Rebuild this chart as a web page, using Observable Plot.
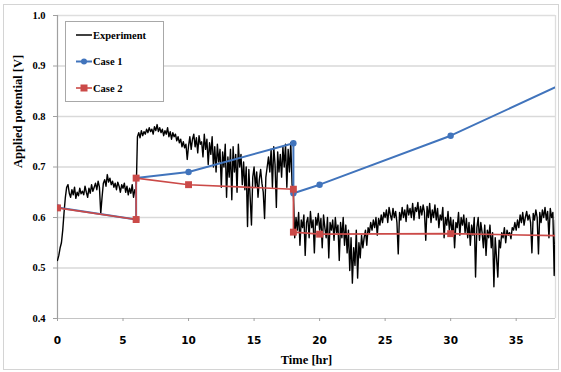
<!DOCTYPE html>
<html><head><meta charset="utf-8">
<script src="https://cdn.jsdelivr.net/npm/d3@7"></script>
<script src="https://cdn.jsdelivr.net/npm/@observablehq/plot@0.6"></script>
<style>
body{margin:0;background:#fff;}
#wrap{position:relative;width:561px;height:372px;overflow:hidden;background:#fff;}
#frame{position:absolute;left:3px;top:4px;width:556px;height:366px;border:1px solid #d4d4d4;box-sizing:border-box;}
#wrap svg{position:absolute;left:0;top:0;}
</style></head>
<body><div id="wrap"><div id="frame"></div></div>
<script>
// ---- data ----
const xTicks = [0, 5, 10, 15, 20, 25, 30, 35];
const yTicks = [0.4, 0.5, 0.6, 0.7, 0.8, 0.9, 1.0];
const yGrid = [0.5, 0.6, 0.7, 0.8, 0.9];

const case1Time  = [0, 6, 6, 10, 18, 18, 20, 30, 40];
const case1Value = [0.620, 0.596, 0.678, 0.690, 0.747, 0.648, 0.665, 0.762, 0.882];
const case2Time  = [0, 6, 6, 10, 18, 18, 20, 30, 40];
const case2Value = [0.619, 0.596, 0.678, 0.665, 0.656, 0.571, 0.567, 0.568, 0.563];

// experiment: sampled every 0.1 hr starting at 0 hr
const expStart = 0, expStep = 0.1;
const expValue = [
 0.515,0.525,0.540,0.550,0.575,0.610,0.640,0.660,0.665,0.648,
 0.640,0.655,0.645,0.660,0.638,0.650,0.643,0.658,0.647,0.652,
 0.645,0.662,0.650,0.640,0.658,0.648,0.665,0.652,0.660,0.668,
 0.655,0.672,0.660,0.608,0.640,0.668,0.675,0.662,0.685,0.670,
 0.678,0.665,0.672,0.660,0.668,0.655,0.670,0.662,0.650,0.665,
 0.658,0.668,0.650,0.662,0.645,0.658,0.648,0.665,0.640,0.655,
 0.648,0.760,0.768,0.758,0.772,0.762,0.770,0.765,0.775,0.768,
 0.778,0.770,0.775,0.765,0.780,0.772,0.784,0.770,0.778,0.768,
 0.775,0.762,0.772,0.765,0.778,0.760,0.770,0.755,0.768,0.760,
 0.765,0.752,0.760,0.748,0.755,0.740,0.750,0.738,0.745,0.715,
 0.742,0.760,0.735,0.755,0.765,0.740,0.758,0.728,0.762,0.745,
 0.750,0.720,0.765,0.735,0.755,0.705,0.748,0.725,0.760,0.700,
 0.740,0.690,0.745,0.710,0.735,0.660,0.730,0.700,0.745,0.640,
 0.720,0.680,0.735,0.635,0.740,0.690,0.725,0.650,0.745,0.700,
 0.725,0.665,0.710,0.655,0.700,0.582,0.695,0.640,0.585,0.680,
 0.700,0.660,0.690,0.640,0.675,0.695,0.668,0.650,0.598,0.680,
 0.700,0.720,0.690,0.735,0.660,0.740,0.705,0.620,0.730,0.690,
 0.725,0.680,0.740,0.700,0.745,0.660,0.735,0.690,0.748,0.665,
 0.650,0.560,0.600,0.575,0.610,0.545,0.595,0.580,0.605,0.525,
 0.590,0.600,0.560,0.612,0.580,0.595,0.530,0.600,0.585,0.608,
 0.575,0.598,0.540,0.605,0.580,0.560,0.600,0.520,0.590,0.575,
 0.595,0.555,0.600,0.570,0.585,0.515,0.590,0.560,0.600,0.545,
 0.585,0.530,0.575,0.495,0.560,0.470,0.540,0.505,0.575,0.480,
 0.550,0.520,0.565,0.540,0.560,0.575,0.545,0.580,0.570,0.590,
 0.575,0.595,0.580,0.600,0.565,0.598,0.585,0.605,0.590,0.610,
 0.600,0.615,0.590,0.620,0.605,0.595,0.618,0.600,0.612,0.590,
 0.528,0.610,0.595,0.620,0.600,0.615,0.592,0.625,0.605,0.618,
 0.600,0.628,0.595,0.620,0.612,0.630,0.598,0.622,0.605,0.625,
 0.610,0.555,0.622,0.600,0.628,0.590,0.615,0.600,0.625,0.595,
 0.618,0.580,0.605,0.595,0.620,0.560,0.600,0.585,0.612,0.575,
 0.600,0.570,0.595,0.540,0.590,0.580,0.610,0.565,0.600,0.585,
 0.605,0.570,0.598,0.560,0.590,0.545,0.585,0.565,0.600,0.482,
 0.580,0.600,0.555,0.590,0.570,0.540,0.585,0.525,0.575,0.560,
 0.585,0.540,0.570,0.463,0.560,0.520,0.482,0.555,0.540,0.570,
 0.560,0.580,0.550,0.575,0.565,0.570,0.558,0.580,0.575,0.590,
 0.575,0.595,0.580,0.605,0.590,0.610,0.585,0.600,0.612,0.595,
 0.605,0.590,0.530,0.608,0.595,0.615,0.600,0.528,0.610,0.590,
 0.615,0.600,0.620,0.595,0.612,0.560,0.618,0.600,0.610,0.485,
 0.595
];

const seriesNames = ["Experiment", "Case 1", "Case 2"];
const colors = {exp: "#000000", c1: "#4174BC", c2: "#CB4A48"};

// ---- tables built from arrays ----
const expData = expValue.map((v, i) => ({t: expStart + i * expStep, v}));
const case1 = case1Time.map((t, i) => ({t, v: case1Value[i]}));
const case2 = case2Time.map((t, i) => ({t, v: case2Value[i]}));

const serif = "'Liberation Serif', 'Times New Roman', serif";

const chart = Plot.plot({
  width: 561, height: 372,
  marginLeft: 57, marginRight: 6, marginTop: 15, marginBottom: 54,
  style: {fontFamily: serif, fontWeight: "bold", fontSize: "10px", color: "#000", background: "transparent"},
  x: {domain: [0, 38]},
  y: {domain: [0.4, 1.0]},
  marks: [
    Plot.ruleY(yGrid, {stroke: "#d9d9d9", strokeWidth: 1.3}),
    Plot.ruleY([1.0], {stroke: "#dedede", strokeWidth: 1.3}),
    Plot.ruleX([38], {stroke: "#dedede", strokeWidth: 1.3}),
    Plot.ruleY([0.4], {stroke: "#c4c4c4", strokeWidth: 1.2}),
    Plot.ruleX([0], {stroke: "#a0a0a0", strokeWidth: 1.2}),
    Plot.axisY({ticks: yTicks, tickFormat: d => d.toFixed(1), tickSize: 4, tickPadding: 8, stroke: "#a0a0a0", label: null, fontSize: 10.5, fontFamily: serif}),
    Plot.axisX({ticks: xTicks, tickSize: 3, tickPadding: 15, stroke: "#a0a0a0", label: null, fontSize: 10.5, fontFamily: "'DejaVu Sans', sans-serif"}),
    Plot.text(["Applied potential [V]"], {frameAnchor: "left", dx: -40, dy: 1, rotate: -90, fontSize: 12.5, fontFamily: serif, fontWeight: "bold"}),
    Plot.text(["Time [hr]"], {frameAnchor: "bottom", dy: 45, fontSize: 12.5, fontFamily: serif, fontWeight: "bold"}),
    Plot.line(expData, {x: "t", y: "v", stroke: colors.exp, strokeWidth: 1.4, clip: true}),
    Plot.line(case1, {x: "t", y: "v", stroke: colors.c1, strokeWidth: 2, clip: true}),
    Plot.dot(case1, {x: "t", y: "v", fill: colors.c1, r: 3.2, clip: true}),
    Plot.line(case2, {x: "t", y: "v", stroke: colors.c2, strokeWidth: 1.6, clip: true}),
    Plot.dot(case2, {x: "t", y: "v", fill: colors.c2, symbol: "square", r: 3.9, clip: true})
  ]
});
document.getElementById("wrap").appendChild(chart);

// ---- legend overlay ----
const leg = d3.select("#wrap").append("svg").attr("width", 561).attr("height", 372);
leg.append("rect").attr("x", 65.5).attr("y", 21.5).attr("width", 98).attr("height", 80)
  .attr("fill", "#fff").attr("stroke", "#a8a8a8").attr("stroke-width", 1);
const rows = [
  {name: seriesNames[0], y: 35, color: colors.exp, sym: null, w: 1.5},
  {name: seriesNames[1], y: 61.5, color: colors.c1, sym: "circle", w: 2},
  {name: seriesNames[2], y: 88, color: colors.c2, sym: "square", w: 1.6}
];
rows.forEach(r => {
  leg.append("line").attr("x1", 76).attr("x2", 92).attr("y1", r.y).attr("y2", r.y)
    .attr("stroke", r.color).attr("stroke-width", r.w);
  if (r.sym === "circle") leg.append("circle").attr("cx", 84).attr("cy", r.y).attr("r", 3).attr("fill", r.color);
  if (r.sym === "square") leg.append("rect").attr("x", 80.5).attr("y", r.y - 3.5).attr("width", 7).attr("height", 7).attr("fill", r.color);
  leg.append("text").attr("x", 93).attr("y", r.y).attr("dy", "0.35em")
    .attr("font-family", serif).attr("font-weight", "bold").attr("font-size", 10.5).text(r.name);
});
</script>
</body></html>
